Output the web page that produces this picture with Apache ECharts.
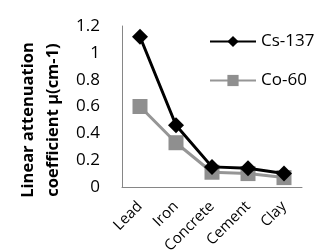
<!DOCTYPE html>
<html>
<head>
<meta charset="utf-8">
<script src="https://cdn.jsdelivr.net/npm/echarts@6/dist/echarts.min.js"></script>
<style>
html, body { margin: 0; padding: 0; background: #fff; }
#chart { width: 318px; height: 252px; }
</style>
</head>
<body>
<div id="chart"></div>
<script>
var materials = ['Lead', 'Iron', 'Concrete', 'Cement', 'Clay'];
var cs137 = [1.12, 0.46, 0.15, 0.14, 0.1];
var co60 = [0.6, 0.33, 0.11, 0.1, 0.07];
var yTicks = [0, 0.2, 0.4, 0.6, 0.8, 1, 1.2];
var yTitle = 'Linear attenuation\ncoefficient μ(cm-1)';

var chart = echarts.init(document.getElementById('chart'));
var option = {
    animation: false,
    textStyle: { fontFamily: 'Open Sans' },
    grid: { left: 122, top: 26, right: 16, bottom: 65, outerBoundsMode: 'none', containLabel: false },
    graphic: [{
        type: 'text',
        x: 41,
        y: 120,
        rotation: Math.PI / 2,
        style: {
            text: yTitle,
            fontFamily: 'Open Sans',
            fontSize: 16.5,
            fontWeight: 'bold',
            lineHeight: 25,
            fill: '#000',
            align: 'center',
            verticalAlign: 'middle'
        }
    }],
    legend: {
        orient: 'vertical',
        left: 204,
        top: 28,
        itemWidth: 46,
        itemHeight: 14,
        itemGap: 22,
        textStyle: { fontSize: 17, color: '#000', fontFamily: 'Open Sans' },
        data: ['Cs-137', 'Co-60']
    },
    xAxis: {
        type: 'category',
        data: materials,
        axisLine: { lineStyle: { color: '#868686', width: 1 } },
        axisTick: { show: false },
        axisLabel: { rotate: 45, color: '#000', fontSize: 15, margin: 17, interval: 0 }
    },
    yAxis: {
        type: 'value',
        min: 0,
        max: yTicks[yTicks.length - 1],
        interval: 0.2,
        splitLine: { show: false },
        axisTick: { show: false },
        axisLine: { show: true, lineStyle: { color: '#868686', width: 1 } },
        axisLabel: { color: '#000', fontSize: 17, margin: 22 }
    },
    series: [
        {
            name: 'Cs-137',
            type: 'line',
            data: cs137,
            symbol: 'diamond',
            symbolSize: 16,
            lineStyle: { color: '#000', width: 3 },
            itemStyle: { color: '#000' },
            z: 3
        },
        {
            name: 'Co-60',
            type: 'line',
            data: co60,
            symbol: 'rect',
            symbolSize: 15,
            lineStyle: { color: '#969696', width: 3 },
            itemStyle: { color: '#8f8f8f' },
            z: 2
        }
    ]
};
chart.setOption(option);
</script>
</body>
</html>
